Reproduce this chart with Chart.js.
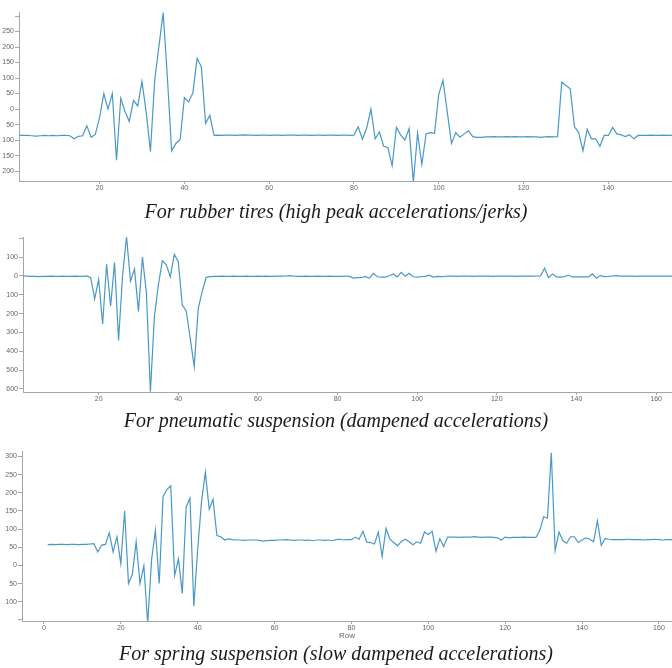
<!DOCTYPE html>
<html>
<head>
<meta charset="utf-8">
<script src="https://cdn.jsdelivr.net/npm/chart.js@4.4.0/dist/chart.umd.min.js"></script>
<style>
  body { margin: 0; background: #fff; }
  #wrap { position: relative; width: 672px; height: 668px; }
  canvas { position: absolute; left: 0; }
</style>
</head>
<body>
<div id="wrap">
  <canvas id="rubber" width="672" height="225" style="top:0"></canvas>
  <canvas id="pneumatic" width="672" height="209" style="top:225px"></canvas>
  <canvas id="spring" width="672" height="234" style="top:434px"></canvas>
</div>
<script>
// titles under each panel
const titles = [
  'For rubber tires (high peak accelerations/jerks)',
  'For pneumatic suspension (dampened accelerations)',
  'For spring suspension (slow dampened accelerations)'
];

// rows 1..155
const rubberValues = [
  -84, -85, -85, -86, -87, -86, -85, -86, -85, -86, -85, -85, -86, -96, -88, -86, -54, -91, -82, -28,
  50, 0, 50, -165, 35, -8, -40, 28, 10, 89, -10, -137, 93, 202, 311, 100, -135, -111, -98, 37,
  23, 52, 163, 137, -46, -20, -85, -84, -85, -84, -84, -85, -84, -83, -84, -84, -85, -84, -84, -85,
  -84, -84, -85, -84, -84, -84, -85, -84, -84, -85, -84, -84, -85, -84, -84, -85, -84, -84, -85, -84,
  -57, -97, -61, 0, -96, -74, -120, -124, -183, -59, -83, -100, -63, -236, -78, -178, -80, -76, -78, 48,
  93, -10, -111, -76, -91, -80, -70, -89, -91, -91, -90, -90, -89, -90, -90, -89, -90, -89, -90, -90,
  -89, -90, -90, -91, -90, -89, -90, -89, 87, 76, 65, -57, -76, -135, -65, -96, -96, -120, -85, -85,
  -59, -80, -83, -89, -83, -96, -85, -85, -85, -84, -85, -85, -84, -85, -85
];

// rows 1..164
const pneumaticValues = [
  0, -1, -2, -2, -3, -2, -2, -1, -2, -2, -1, -2, -2, -1, -2, -2, 0, -9, -122, -18,
  -255, 62, -160, 72, -342, 0, 209, -27, 37, -189, 100, -92, -614, -216, -48, 81, 58, -5, 115, 76,
  -154, -186, -331, -481, -175, -83, -7, -3, -2, -2, -1, -2, -2, -1, -2, -2, -1, -2, -2, -1,
  -2, -1, -2, -2, -1, -1, 0, 2, 0, -2, -2, -1, -2, -2, -1, -2, -2, -1, -2, -2,
  -2, 0, -2, -11, -9, -8, -4, -11, 14, -4, -6, -6, 1, 11, -5, 19, -1, 14, -4, -6,
  -4, -2, 4, -6, -2, -3, -2, 0, -1, -2, -1, 0, -1, -2, -1, -1, 0, -1, -2, -1,
  -1, -1, 0, -1, -2, -1, -1, 0, -1, 0, 1, 42, -9, 11, -5, -6, -3, 5, -5, -5,
  -5, -4, -5, 11, -12, 2, -3, -2, 0, 2, -1, -1, 0, -1, -2, -1, -1, 0, -1, 0,
  -1, 0, -1, -1
];

// rows 1..164
const springValues = [
  57, 58, 57, 58, 58, 57, 58, 58, 57, 58, 58, 59, 60, 37, 56, 58, 90, 37, 79, 5,
  150, -50, -25, 65, -50, -1, -160, 15, 96, -50, 190, 209, 219, -28, 18, -77, 161, 185, -112, 43,
  175, 257, 155, 182, 82, 79, 70, 73, 71, 70, 70, 69, 70, 70, 70, 69, 67, 68, 69, 69,
  70, 70, 71, 70, 69, 70, 70, 69, 70, 68, 70, 70, 69, 70, 68, 71, 72, 70, 71, 71,
  78, 72, 94, 64, 63, 59, 92, 24, 102, 72, 63, 54, 66, 72, 65, 57, 65, 61, 92, 85,
  94, 39, 74, 52, 78, 78, 78, 77, 78, 78, 78, 79, 78, 77, 78, 78, 77, 76, 70, 78,
  76, 77, 77, 77, 78, 77, 77, 77, 96, 134, 130, 310, 41, 92, 68, 61, 79, 79, 63, 70,
  76, 72, 65, 123, 55, 74, 72, 71, 71, 71, 71, 72, 71, 71, 71, 70, 71, 71, 72, 71,
  70, 71, 71, 70
];

const axisColor = '#a6a6a6';
const tickFont = { family: 'Liberation Sans', size: 7 };

function toPoints(values) {
  return values.map((v, i) => ({ x: i + 1, y: v }));
}

function makePanel(id, values, title, o) {
  const ctx = document.getElementById(id).getContext('2d');
  return new Chart(ctx, {
    type: 'line',
    data: {
      datasets: [{
        data: toPoints(values),
        borderColor: '#4a98c6',
        borderWidth: 1.2,
        pointRadius: 0,
        tension: 0
      }]
    },
    options: {
      responsive: false,
      animation: false,
      layout: { padding: { top: o.padTop, left: 0, right: 0, bottom: 0 } },
      plugins: {
        legend: { display: false },
        tooltip: { enabled: false },
        title: {
          display: true,
          position: 'bottom',
          text: title,
          color: '#1a1a1a',
          font: { family: 'Liberation Serif', style: 'italic', size: 20, weight: 'normal' },
          padding: o.titlePad
        }
      },
      scales: {
        x: {
          type: 'linear',
          min: o.xMin,
          max: o.xMax,
          afterFit: (s) => { s.height = o.xHeight; },
          border: { display: true, color: axisColor },
          grid: { drawOnChartArea: false, tickLength: 3, color: axisColor },
          ticks: { stepSize: 20, includeBounds: false, color: '#666', font: tickFont, padding: 0, maxRotation: 0 },
          title: o.xTitle ? {
            display: true, text: o.xTitle, color: '#666',
            font: { family: 'Liberation Sans', size: 8 }, padding: { top: 0, bottom: 2 }
          } : { display: false }
        },
        y: {
          min: o.yMin,
          max: o.yMax,
          afterFit: (s) => { s.width = o.yWidth; },
          border: { display: true, color: axisColor },
          grid: { drawOnChartArea: false, tickLength: 4, color: axisColor },
          ticks: {
            stepSize: o.yStep,
            includeBounds: false,
            color: '#666',
            font: tickFont,
            padding: 1,
            callback: (v) => (o.noLabel.includes(v) ? '' : String(Math.abs(v)))
          }
        }
      }
    }
  });
}

makePanel('rubber', rubberValues, titles[0], {
  padTop: 12, xMin: 1, xMax: 155, xHeight: 14, yWidth: 19,
  yMin: -232, yMax: 313, yStep: 50, noLabel: [300],
  titlePad: { top: 6, bottom: 0 }
});

makePanel('pneumatic', pneumaticValues, titles[1], {
  padTop: 12, xMin: 1, xMax: 164, xHeight: 14, yWidth: 23,
  yMin: -616, yMax: 207, yStep: 100, noLabel: [200],
  titlePad: { top: 4, bottom: 0 }
});

makePanel('spring', springValues, titles[2], {
  padTop: 17, xMin: -5.7, xMax: 163.4, xHeight: 22, yWidth: 22,
  yMin: -153, yMax: 315, yStep: 50, noLabel: [-150],
  xTitle: 'Row',
  titlePad: { top: 0, bottom: 1 }
});
</script>
</body>
</html>
